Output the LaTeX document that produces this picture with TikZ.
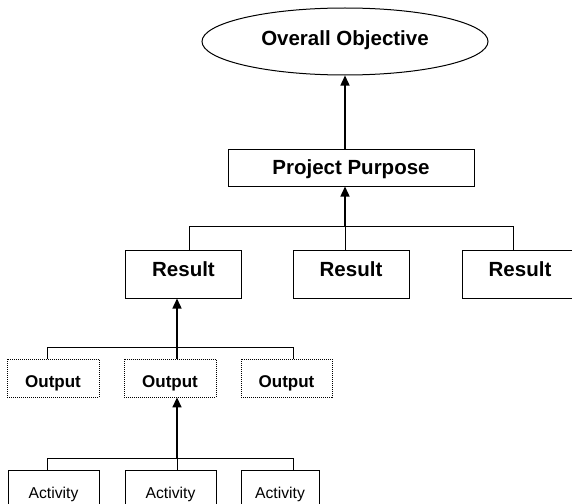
\documentclass[tikz,border=0pt]{standalone}
\usepackage{fontspec}
\setmainfont{Liberation Sans}
\usetikzlibrary{shapes.geometric,arrows.meta}
\begin{document}
\begin{tikzpicture}
[x=1pt,y=-1pt,
 every node/.style={rectangle,draw,line width=1pt,inner sep=0pt,text depth=0pt},
 goal/.style={ellipse,minimum width=286,minimum height=67,text height=14.7pt,text depth=7pt,font=\bfseries\fontsize{20.5}{24}\selectfont},
 res/.style={minimum height=48,minimum width=116,text height=14.7pt,font=\bfseries\fontsize{20.5}{24}\selectfont},
 outbox/.style={densely dotted,line width=.8pt,minimum height=38,minimum width=92,text height=19.2pt,font=\bfseries\fontsize{17}{20}\selectfont},
 actbox/.style={minimum height=46,minimum width=91,text height=11.2pt,font=\fontsize{15.7}{19}\selectfont},
 link/.style={line width=1pt},
 arr/.style={-{Triangle[width=9pt,length=10pt]},line width=1.4pt}]
   \useasboundingbox (0,0) rectangle (572,503);
   \clip (0,0) rectangle (572,503);
   \node[goal] (obj) at (345,41.5) {Overall Objective};
   \node[res,minimum width=246,minimum height=37] (pp) at (351,167.5) {Project Purpose};
   \node[res,text depth=9pt] (r1) at (183.5,274) {Result};
   \node[res,text depth=9pt] (r2) at (351,274) {Result};
   \node[res,text depth=9pt] (r3) at (520,274) {Result};
   \node[outbox] (o1) at (53,378) {Output};
   \node[outbox] (o2) at (170,378) {Output};
   \node[outbox,minimum width=91] (o3) at (286.5,378) {Output};
   \node[actbox] (a1) at (53.5,493) {Activity};
   \node[actbox] (a2) at (170.5,493) {Activity};
   \node[actbox,minimum width=78] (a3) at (280,493) {Activity};
   % branch points
   \coordinate (rm) at (345,226);
   \coordinate (rl) at (189,226);
   \coordinate (rr) at (513,226);
   \coordinate (om) at (177,347);
   \coordinate (ol) at (47,347);
   \coordinate (or) at (293,347);
   \coordinate (am) at (177,458);
   \coordinate (al) at (47,458);
   \coordinate (ar) at (293,458);
   \draw[arr] (pp.north -| obj.south) -- (obj.south);
   \draw[link] (rl |- r1.north) -- (rl) -- (rr) -- (rr |- r3.north);
   \draw[link] (rm |- r2.north) -- (rm);
   \draw[arr] (rm) -- (rm |- pp.south);
   \draw[link] (ol |- o1.north) -- (ol) -- (or) -- (or |- o3.north);
   \draw[arr] (om |- o2.north) -- (om |- r1.south);
   \draw[link] (al |- a1.north) -- (al) -- (ar) -- (ar |- a3.north);
   \draw[link] (am |- a2.north) -- (am);
   \draw[arr] (am) -- (am |- o2.south);
\end{tikzpicture}
\end{document}
